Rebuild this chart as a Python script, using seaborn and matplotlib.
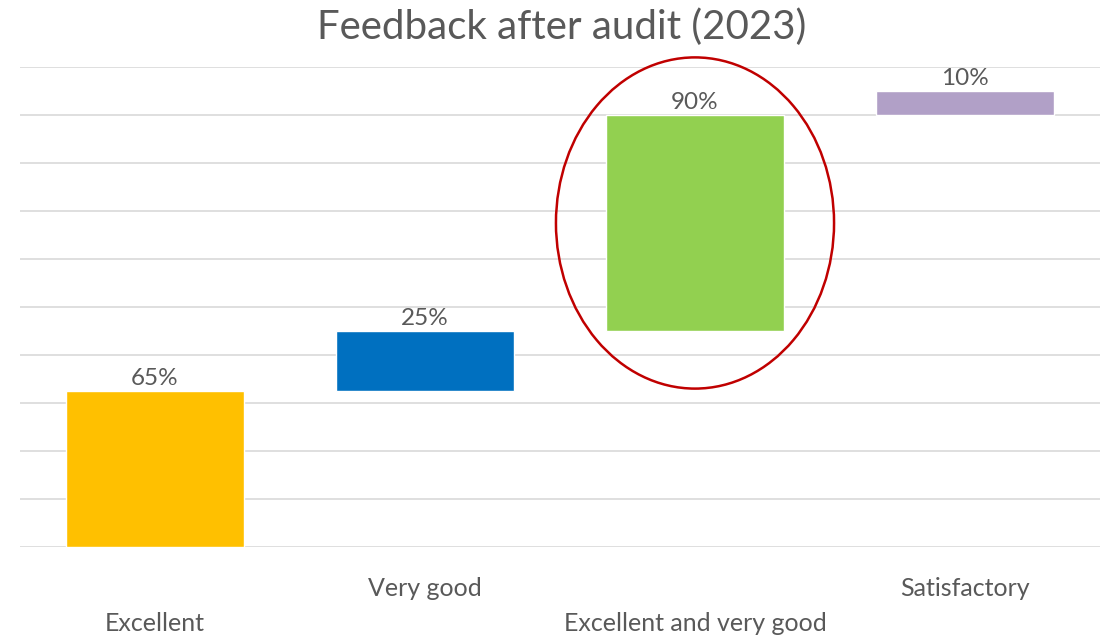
import matplotlib
matplotlib.use("Agg")
import matplotlib.pyplot as plt
from matplotlib.patches import Ellipse
import seaborn as sns

# chart data
categories = ["Excellent", "Very good", "Excellent and very good", "Satisfactory"]
values = [65, 25, 90, 10]          # bar heights
bases = [0, 65, 90, 180]           # where each floating bar starts
labels = ["65%", "25%", "90%", "10%"]
colors = ["#FFC000", "#0070C0", "#92D050", "#B1A0C7"]

sns.set_style("white")
plt.rcParams["font.family"] = ["Lato", "DejaVu Sans"]

fig = plt.figure(figsize=(11.07, 6.36), dpi=100)
ax = fig.add_axes([20 / 1107, 89 / 636, 1080 / 1107, 480 / 636])

sns.barplot(x=categories, y=values, hue=categories, palette=colors,
            legend=False, width=0.66, saturation=1, ax=ax)

# lift each bar onto its base (waterfall style)
for patch, base in zip(ax.patches, bases):
    patch.set_y(base)
    patch.set_zorder(3)

for i, (b, v, lab) in enumerate(zip(bases, values, labels)):
    ax.annotate(lab, (i, b + v), xytext=(0, 4.5), textcoords="offset points",
                ha="center", va="baseline", fontsize=17.5, color="#595959")

ax.set_ylim(0, 200)
ax.set_xlim(-0.5, 3.5)
ax.set_yticks(range(0, 201, 20))
ax.yaxis.grid(True, color="#D9D9D9", linewidth=1.2)
ax.set_axisbelow(True)
ax.tick_params(axis="y", left=False, labelleft=False)
ax.tick_params(axis="x", length=0, labelsize=18, labelcolor="#595959")
for i, tick in enumerate(ax.xaxis.get_major_ticks()):
    tick.set_pad(46.5 if i % 2 == 0 else 21.5)
for s in ax.spines.values():
    s.set_visible(False)
ax.set_xlabel("")
ax.set_ylabel("")

# red highlight ring around the combined bar
ax.add_patch(Ellipse((2, 135), 1.03, 138, fill=False, edgecolor="#C00000",
                     linewidth=1.8, zorder=4, clip_on=False))

fig.text(0.507, 1 - 27 / 636, "Feedback after audit (2023)", ha="center",
         va="center", fontsize=29, color="#595959")

fig.savefig("out.png", dpi=100)
